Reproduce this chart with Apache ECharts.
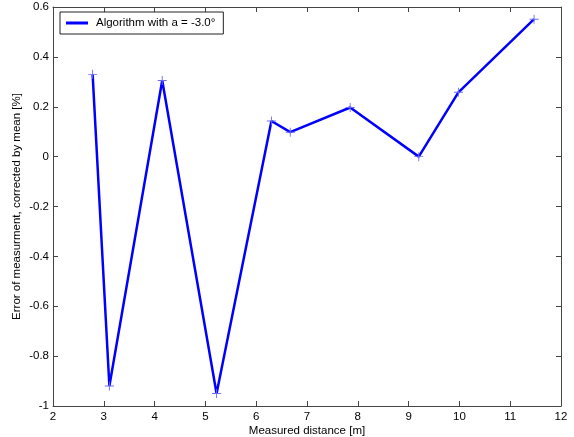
<!DOCTYPE html>
<html>
<head>
<meta charset="utf-8">
<script src="https://cdn.jsdelivr.net/npm/echarts@6/dist/echarts.min.js"></script>
<style>html,body{margin:0;padding:0;background:#fff}#c{width:574px;height:437px}</style>
</head>
<body>
<div id="c"></div>
<script>
const xValues = [2.78, 3.11, 4.15, 5.22, 6.30, 6.67, 7.85, 9.20, 9.98, 11.47];
const yValues = [0.33, -0.92, 0.305, -0.95, 0.143, 0.098, 0.197, 0.0, 0.258, 0.551];
const seriesName = 'Algorithm with a = -3.0°';
const xLabel = 'Measured distance [m]';
const yLabel = 'Error of measurment, corrected by mean [%]';

const data = xValues.map((x, i) => [x, yValues[i]]);
const font = 'Liberation Sans, Arial, sans-serif';
const axisColor = '#444';
const chart = echarts.init(document.getElementById('c'));
const plus = 'path://M-0.1,-1H0.1V-0.1H1V0.1H0.1V1H-0.1V0.1H-1V-0.1H-0.1Z';

const xBase = {
  type: 'value', min: 2, max: 12, interval: 1,
  axisLine: {show: true, onZero: false, lineStyle: {color: axisColor, width: 1}},
  axisTick: {show: true, inside: true, length: 5, lineStyle: {color: axisColor}},
  splitLine: {show: false}
};
const yBase = {
  type: 'value', min: -1, max: 0.6, interval: 0.2,
  axisLine: {show: true, onZero: false, lineStyle: {color: axisColor, width: 1}},
  axisTick: {show: true, inside: true, length: 5, lineStyle: {color: axisColor}},
  splitLine: {show: false}
};

chart.setOption({
  animation: false,
  backgroundColor: '#fff',
  grid: {left: 53, right: 13, top: 7, bottom: 31, containLabel: false, outerBoundsMode: 'none'},
  legend: {
    left: 60, top: 12,
    data: [{name: seriesName, icon: 'rect'}],
    itemWidth: 22, itemHeight: 3,
    itemGap: 0,
    padding: [5, 8, 5, 6],
    backgroundColor: '#fff',
    borderColor: '#222', borderWidth: 1,
    textStyle: {fontFamily: font, fontSize: 11.5, color: '#000', padding: [0, 0, 0, 3]}
  },
  xAxis: [
    Object.assign({}, xBase, {
      position: 'bottom',
      axisLabel: {show: true, color: '#000', fontFamily: font, fontSize: 11.5, margin: 5},
      name: xLabel, nameLocation: 'middle', nameGap: 19, nameMoveOverlap: false,
      nameTextStyle: {fontFamily: font, fontSize: 11.5, color: '#000'}
    }),
    Object.assign({}, xBase, {position: 'top', axisLabel: {show: false}})
  ],
  yAxis: [
    Object.assign({}, yBase, {
      position: 'left',
      axisLabel: {
        show: true, color: '#000', fontFamily: font, fontSize: 11.5, margin: 4,
        formatter: v => (Math.round(v * 10) / 10).toString()
      },
      name: yLabel, nameLocation: 'middle', nameGap: 30, nameMoveOverlap: false,
      nameTextStyle: {fontFamily: font, fontSize: 11.5, color: '#000'}
    }),
    Object.assign({}, yBase, {position: 'right', axisLabel: {show: false}})
  ],
  series: [{
    name: seriesName,
    type: 'line',
    data: data,
    xAxisIndex: 0, yAxisIndex: 0,
    lineStyle: {color: '#0000ff', width: 2.5},
    itemStyle: {color: '#0000ff'},
    symbol: 'none',
    z: 3
  }, {
    name: 'markers',
    type: 'scatter',
    data: data,
    symbol: plus,
    symbolSize: 9,
    itemStyle: {color: '#6a6aff', opacity: 1},
    silent: true,
    z: 4
  }]
});
</script>
</body>
</html>
